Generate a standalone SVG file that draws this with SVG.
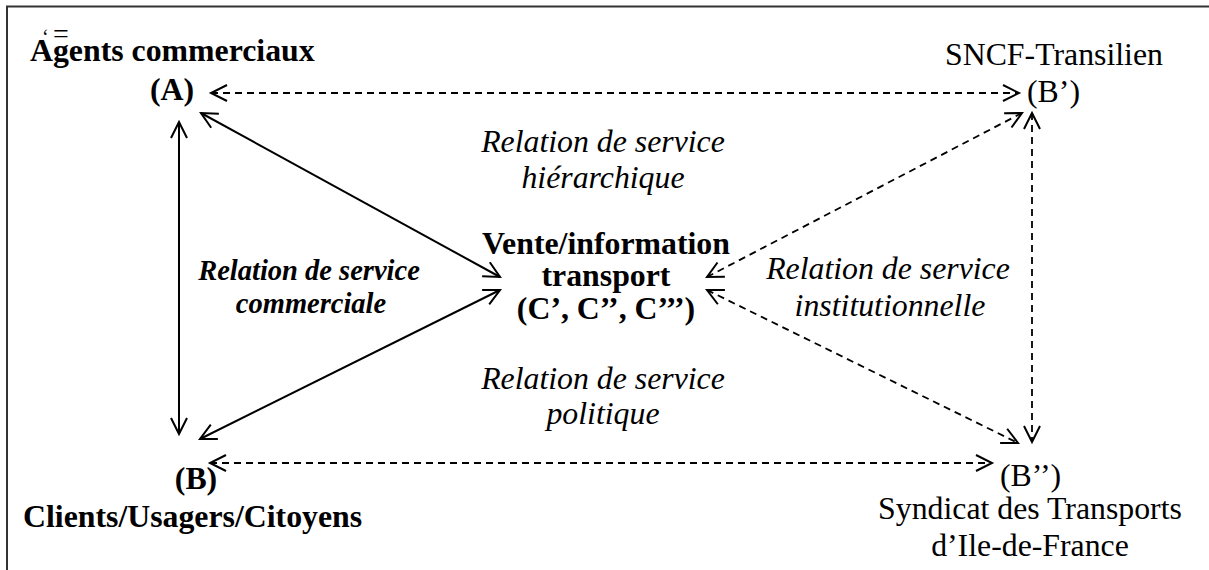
<svg xmlns="http://www.w3.org/2000/svg" width="1209" height="570" viewBox="0 0 1209 570">
<style>
text{font-family:"Liberation Serif","Times New Roman",serif;fill:#000}
.b{font-weight:bold}
.i{font-style:italic}
.f{font-size:31.8px}
.s{stroke:#000;stroke-width:2;fill:none}
.d{stroke:#000;stroke-width:1.8;fill:none;stroke-dasharray:7 5}
</style>
<defs>
<marker id="ah" markerUnits="userSpaceOnUse" markerWidth="40" markerHeight="40" refX="0" refY="0" orient="auto-start-reverse" overflow="visible">
<path d="M-16,-8 L0,0 L-16,8" fill="none" stroke="#000" stroke-width="2" stroke-dasharray="none"/>
</marker>
</defs>
<g id="frame">
<path d="M7,570 V6.5 H1209" fill="none" stroke="#333" stroke-width="2"/>
</g>
<g id="connectors">
<line class="d" x1="211" y1="93" x2="1019" y2="93" marker-start="url(#ah)" marker-end="url(#ah)"/>
<line class="d" x1="210" y1="463" x2="992" y2="463" marker-start="url(#ah)" marker-end="url(#ah)"/>
<line class="s" x1="179" y1="122" x2="179" y2="434" marker-start="url(#ah)" marker-end="url(#ah)"/>
<line class="s" x1="201" y1="113" x2="500" y2="277" marker-start="url(#ah)" marker-end="url(#ah)"/>
<line class="s" x1="200" y1="439" x2="500" y2="290" marker-start="url(#ah)" marker-end="url(#ah)"/>
<line class="d" x1="707" y1="277" x2="1022" y2="113" marker-start="url(#ah)" marker-end="url(#ah)"/>
<line class="d" x1="707" y1="290" x2="1018" y2="443" marker-start="url(#ah)" marker-end="url(#ah)"/>
<line class="d" x1="1032" y1="113" x2="1032" y2="442" marker-start="url(#ah)" marker-end="url(#ah)"/>
</g>
<g id="node-A">
<text x="42" y="44" font-size="20">‘</text>
<text x="53" y="43" font-size="28">=</text>
<text class="b f" x="30" y="61">Agents commerciaux</text>
<text class="b f" x="172" y="100" text-anchor="middle">(A)</text>
</g>
<g id="node-Bp">
<text class="f" x="945" y="65">SNCF-Transilien</text>
<text class="f" x="1027" y="102">(B’)</text>
</g>
<g id="node-C">
<text class="b f" x="606" y="254" text-anchor="middle">Vente/information</text>
<text class="b f" x="606" y="286" text-anchor="middle">transport</text>
<text class="b f" x="606" y="319" text-anchor="middle">(C’, C’’, C’’’)</text>
</g>
<g id="node-B">
<text class="b f" x="196" y="489" text-anchor="middle">(B)</text>
<text class="b f" x="23" y="527">Clients/Usagers/Citoyens</text>
</g>
<g id="node-Bpp">
<text class="f" x="1000" y="486">(B’’)</text>
<text class="f" x="1030" y="519" text-anchor="middle">Syndicat des Transports</text>
<text class="f" x="1030" y="556" text-anchor="middle">d’Ile-de-France</text>
</g>
<g id="labels">
<text class="i f" x="603" y="152" text-anchor="middle">Relation de service</text>
<text class="i f" x="603" y="188" text-anchor="middle">hiérarchique</text>
<text class="i f" x="603" y="389" text-anchor="middle">Relation de service</text>
<text class="i f" x="603" y="424" text-anchor="middle">politique</text>
<text class="i f" x="888" y="279" text-anchor="middle">Relation de service</text>
<text class="i f" x="890" y="316" text-anchor="middle">institutionnelle</text>
<text class="b i" font-size="28.5" x="309" y="280" text-anchor="middle">Relation de service</text>
<text class="b i" font-size="28.5" x="311" y="313" text-anchor="middle">commerciale</text>
</g>
</svg>
